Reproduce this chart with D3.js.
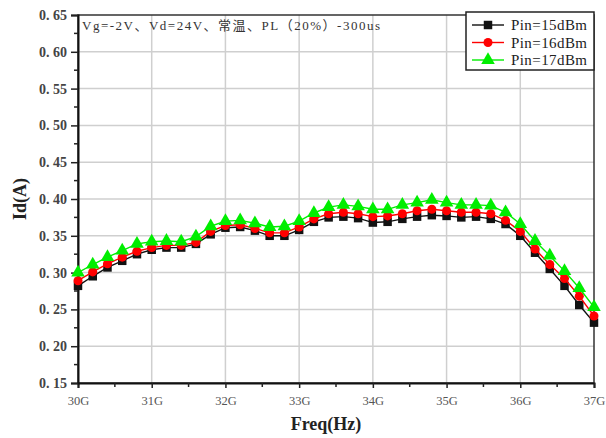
<!DOCTYPE html>
<html>
<head>
<meta charset="utf-8">
<script src="https://cdn.jsdelivr.net/npm/d3@7"></script>
<style>
  body { margin: 0; background: #fff; }
  svg text { font-family: "Liberation Serif", "Noto Sans CJK SC", serif; }
</style>
</head>
<body>
<script>
// frequency points, GHz
const freqs = d3.range(36).map(i => 30 + i * 0.2);
const xTicks = [30, 31, 32, 33, 34, 35, 36, 37];
const yTicks = [0.15, 0.20, 0.25, 0.30, 0.35, 0.40, 0.45, 0.50, 0.55, 0.60, 0.65];

const pin15 = [0.282, 0.295, 0.307, 0.316, 0.325, 0.331, 0.334, 0.334, 0.339, 0.352,
               0.361, 0.362, 0.357, 0.350, 0.350, 0.358, 0.369, 0.375, 0.376, 0.374,
               0.368, 0.369, 0.373, 0.376, 0.378, 0.377, 0.375, 0.376, 0.373, 0.366,
               0.350, 0.327, 0.305, 0.282, 0.256, 0.232];
const pin16 = [0.289, 0.301, 0.312, 0.321, 0.329, 0.334, 0.337, 0.337, 0.341, 0.356,
               0.364, 0.365, 0.360, 0.354, 0.354, 0.362, 0.373, 0.380, 0.382, 0.380,
               0.376, 0.377, 0.380, 0.384, 0.386, 0.384, 0.382, 0.382, 0.380, 0.371,
               0.356, 0.332, 0.311, 0.292, 0.268, 0.241];
const pin17 = [0.300, 0.311, 0.321, 0.330, 0.339, 0.342, 0.343, 0.342, 0.349, 0.363,
               0.370, 0.371, 0.367, 0.362, 0.363, 0.370, 0.381, 0.389, 0.392, 0.390,
               0.386, 0.386, 0.392, 0.395, 0.399, 0.395, 0.392, 0.392, 0.391, 0.382,
               0.366, 0.343, 0.323, 0.302, 0.279, 0.253];

const seriesNames = ["Pin=15dBm", "Pin=16dBm", "Pin=17dBm"];
const note = "Vg=-2V、Vd=24V、常温、PL（20%）-300us";

const W = 606, H = 438;
const margin = {top: 15, right: 12, bottom: 55, left: 78};
const width = W - margin.left - margin.right,
      height = H - margin.top - margin.bottom;

const svg = d3.select("body").append("svg")
    .attr("width", W).attr("height", H);
const g = svg.append("g")
    .attr("transform", "translate(" + margin.left + "," + margin.top + ")");

const x = d3.scaleLinear().domain([30, 37]).range([0, width]);
const y = d3.scaleLinear().domain([0.15, 0.65]).range([height, 0]);

// grid
g.append("g").selectAll("line").data(xTicks.slice(1, -1)).enter().append("line")
    .attr("x1", d => x(d)).attr("x2", d => x(d))
    .attr("y1", 0).attr("y2", height)
    .attr("stroke", "#cfcfcf").attr("stroke-width", 1.5);
g.append("g").selectAll("line").data(yTicks.slice(1, -1)).enter().append("line")
    .attr("y1", d => y(d)).attr("y2", d => y(d))
    .attr("x1", 0).attr("x2", width)
    .attr("stroke", "#cfcfcf").attr("stroke-width", 1.5);

// frame (top + right)
g.append("rect").attr("x", 0).attr("y", 0).attr("width", width).attr("height", height)
    .attr("fill", "none").attr("stroke", "#333").attr("stroke-width", 1.5);

// axes
const xAxis = g.append("g").attr("transform", "translate(0," + height + ")")
    .call(d3.axisBottom(x).tickValues(xTicks).tickSize(5).tickPadding(8)
      .tickFormat(d => d + "G"));
xAxis.append("g").selectAll("line").data(d3.range(30.5, 37, 1)).enter().append("line")
    .attr("x1", d => x(d)).attr("x2", d => x(d)).attr("y1", 0).attr("y2", 4)
    .attr("stroke", "#222").attr("stroke-width", 1.5);
xAxis.selectAll("text").attr("fill", "#555").style("font-size", "12.5px");

const yAxis = g.append("g")
    .call(d3.axisLeft(y).tickValues(yTicks).tickSize(7).tickPadding(4)
      .tickFormat(d => d3.format(".2f")(d).replace(".", ".\u00a0")));
yAxis.append("g").selectAll("line").data(d3.range(0.175, 0.65, 0.05)).enter().append("line")
    .attr("y1", d => y(d)).attr("y2", d => y(d)).attr("x1", 0).attr("x2", -4)
    .attr("stroke", "#222").attr("stroke-width", 1.5);
yAxis.selectAll("text").attr("fill", "#444").style("font-size", "14px").style("font-weight", "bold");

[xAxis, yAxis].forEach(a => {
  a.attr("font-family", null);
  a.select(".domain").attr("stroke", "#111").attr("stroke-width", 2);
  a.selectAll(".tick line").attr("stroke", "#222").attr("stroke-width", 1.5);
});

// axis titles
svg.append("text").attr("x", margin.left + width / 2 - 10).attr("y", 430)
    .attr("text-anchor", "middle").style("font-size", "18px").style("font-weight", "bold")
    .attr("fill", "#222").text("Freq(Hz)");
svg.append("text").attr("transform", "translate(26," + (margin.top + height / 2) + ")rotate(-90)")
    .attr("text-anchor", "middle").style("font-size", "18px").style("font-weight", "bold")
    .attr("fill", "#222").text("Id(A)");

// note
g.append("text").attr("x", 4).attr("y", 15).style("font-size", "13px")
    .attr("textLength", 298).attr("lengthAdjust", "spacing")
    .attr("fill", "#333").text(note);

// series
const series = [
  {name: seriesNames[0], values: pin15, color: "#111111", sym: d3.symbolSquare, size: 72},
  {name: seriesNames[1], values: pin16, color: "#ff0000", sym: d3.symbolCircle, size: 64},
  {name: seriesNames[2], values: pin17, color: "#00ee00", sym: d3.symbolTriangle, size: 80}
];

const line = d3.line().x((d, i) => x(freqs[i])).y(d => y(d));

series.forEach(s => {
  g.append("path").datum(s.values).attr("d", line)
      .attr("fill", "none").attr("stroke", s.color).attr("stroke-width", 1.4);
  g.append("g").selectAll("path").data(s.values).enter().append("path")
      .attr("transform", (d, i) => "translate(" + x(freqs[i]) + "," + y(d) + ")")
      .attr("d", d3.symbol().type(s.sym).size(s.size))
      .attr("fill", s.color);
});

// legend
const lg = svg.append("g").attr("transform", "translate(466,12)");
lg.append("rect").attr("width", 128).attr("height", 58)
    .attr("fill", "#fff").attr("stroke", "#222").attr("stroke-width", 1.5);
series.forEach((s, i) => {
  const yy = 13 + i * 17.5;
  lg.append("line").attr("x1", 6).attr("x2", 38).attr("y1", yy).attr("y2", yy)
      .attr("stroke", s.color).attr("stroke-width", 1.4);
  lg.append("path").attr("transform", "translate(22," + yy + ")")
      .attr("d", d3.symbol().type(s.sym).size(s.size)).attr("fill", s.color);
  lg.append("text").attr("x", 45).attr("y", yy + 5).style("font-size", "15px")
      .attr("textLength", 76).attr("lengthAdjust", "spacing")
      .attr("fill", "#222").text(s.name);
});
</script>
</body>
</html>
